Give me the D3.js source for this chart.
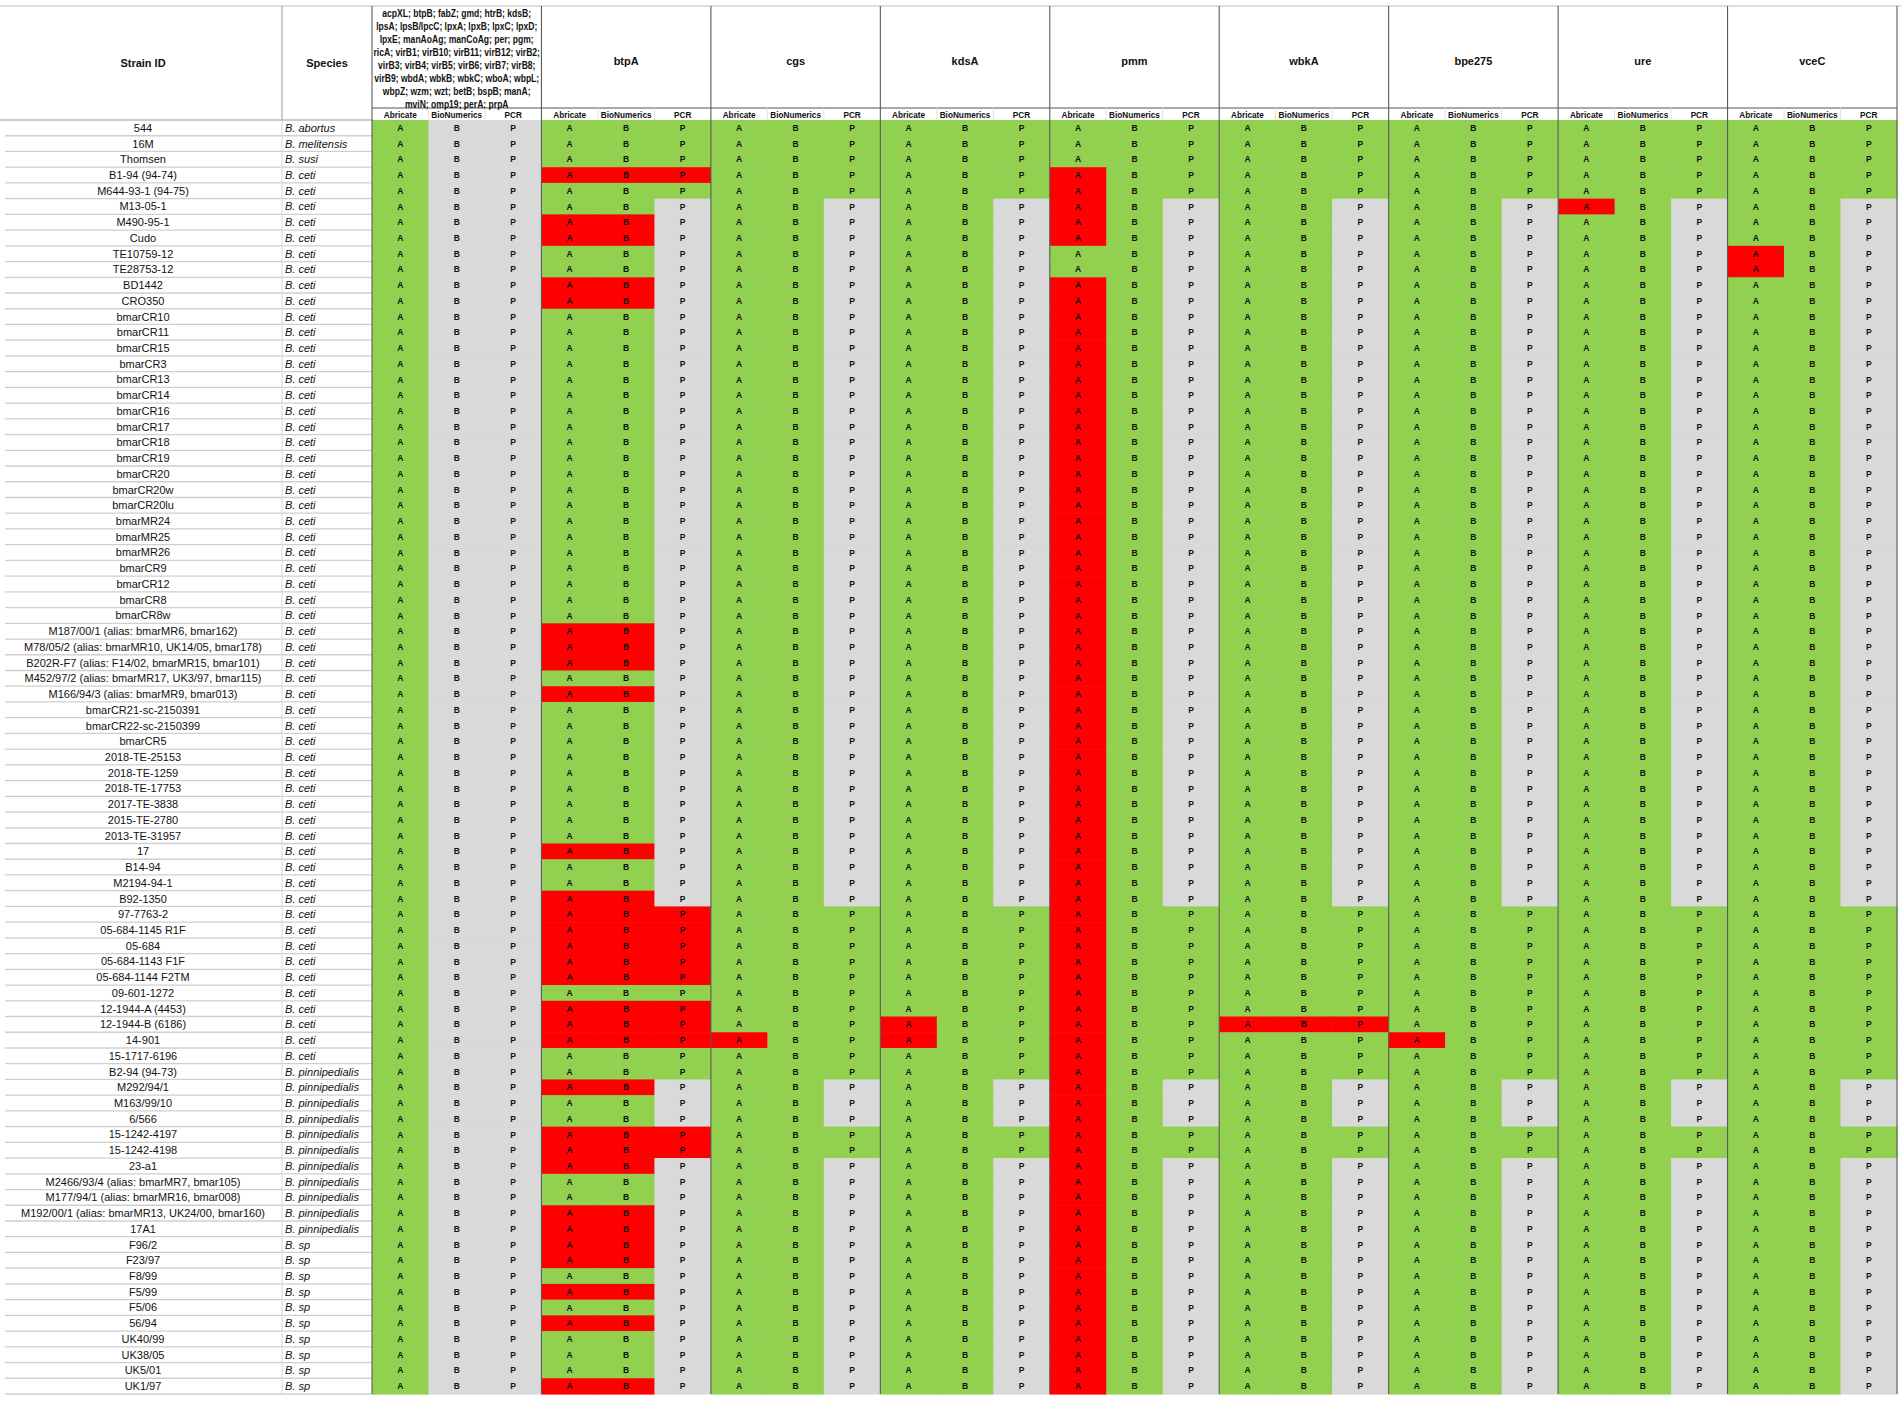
<!DOCTYPE html>
<html><head><meta charset="utf-8">
<script src="https://cdn.jsdelivr.net/npm/d3@7"></script>
<style>body{margin:0;background:#fff} svg{display:block}</style>
</head><body>
<script>
// ---------- DATA ----------
const strains = [
"544","16M","Thomsen","B1-94 (94-74)","M644-93-1 (94-75)","M13-05-1","M490-95-1","Cudo",
"TE10759-12","TE28753-12","BD1442","CRO350","bmarCR10","bmarCR11","bmarCR15","bmarCR3",
"bmarCR13","bmarCR14","bmarCR16","bmarCR17","bmarCR18","bmarCR19","bmarCR20","bmarCR20w",
"bmarCR20lu","bmarMR24","bmarMR25","bmarMR26","bmarCR9","bmarCR12","bmarCR8","bmarCR8w",
"M187/00/1 (alias: bmarMR6, bmar162)","M78/05/2 (alias: bmarMR10, UK14/05, bmar178)",
"B202R-F7 (alias: F14/02, bmarMR15, bmar101)","M452/97/2 (alias: bmarMR17, UK3/97, bmar115)",
"M166/94/3 (alias: bmarMR9, bmar013)","bmarCR21-sc-2150391","bmarCR22-sc-2150399","bmarCR5",
"2018-TE-25153","2018-TE-1259","2018-TE-17753","2017-TE-3838","2015-TE-2780","2013-TE-31957",
"17","B14-94","M2194-94-1","B92-1350","97-7763-2","05-684-1145 R1F","05-684","05-684-1143 F1F",
"05-684-1144 F2TM","09-601-1272","12-1944-A (4453)","12-1944-B (6186)","14-901","15-1717-6196",
"B2-94 (94-73)","M292/94/1","M163/99/10","6/566","15-1242-4197","15-1242-4198","23-a1",
"M2466/93/4 (alias: bmarMR7, bmar105)","M177/94/1 (alias: bmarMR16, bmar008)",
"M192/00/1 (alias: bmarMR13, UK24/00, bmar160)","17A1","F96/2","F23/97","F8/99","F5/99","F5/06",
"56/94","UK40/99","UK38/05","UK5/01","UK1/97"
];
const species = [
"B. abortus","B. melitensis","B. susi",
"B. ceti","B. ceti","B. ceti","B. ceti","B. ceti","B. ceti","B. ceti","B. ceti","B. ceti","B. ceti",
"B. ceti","B. ceti","B. ceti","B. ceti","B. ceti","B. ceti","B. ceti","B. ceti","B. ceti","B. ceti",
"B. ceti","B. ceti","B. ceti","B. ceti","B. ceti","B. ceti","B. ceti","B. ceti","B. ceti","B. ceti",
"B. ceti","B. ceti","B. ceti","B. ceti","B. ceti","B. ceti","B. ceti","B. ceti","B. ceti","B. ceti",
"B. ceti","B. ceti","B. ceti","B. ceti","B. ceti","B. ceti","B. ceti","B. ceti","B. ceti","B. ceti",
"B. ceti","B. ceti","B. ceti","B. ceti","B. ceti","B. ceti","B. ceti",
"B. pinnipedialis","B. pinnipedialis","B. pinnipedialis","B. pinnipedialis","B. pinnipedialis",
"B. pinnipedialis","B. pinnipedialis","B. pinnipedialis","B. pinnipedialis","B. pinnipedialis",
"B. pinnipedialis",
"B. sp","B. sp","B. sp","B. sp","B. sp","B. sp","B. sp","B. sp","B. sp","B. sp"
];
const pooledGeneLines = [
"acpXL; btpB; fabZ; gmd; htrB; kdsB;",
"lpsA; lpsB/lpcC; lpxA; lpxB; lpxC; lpxD;",
"lpxE; manAoAg; manCoAg; per; pgm;",
"ricA; virB1; virB10; virB11; virB12; virB2;",
"virB3; virB4; virB5; virB6; virB7; virB8;",
"virB9; wbdA; wbkB; wbkC; wboA; wbpL;",
"wbpZ; wzm; wzt; betB; bspB; manA;",
"mviN; omp19; perA; prpA"
];
const geneGroups = [pooledGeneLines.join(" "),"btpA","cgs","kdsA","pmm","wbkA","bpe275","ure","vceC"];
const methods = ["Abricate","BioNumerics","PCR"];
const methodCodes = ["A","B","P"];
// per strain: 9 gene groups x (Abricate, BioNumerics, PCR); g = detected, r = not detected, n = not tested
const results = [
"gnn ggg ggg ggg ggg ggg ggg ggg ggg", // 544
"gnn ggg ggg ggg ggg ggg ggg ggg ggg", // 16M
"gnn ggg ggg ggg ggg ggg ggg ggg ggg", // Thomsen
"gnn rrr ggg ggg rgg ggg ggg ggg ggg", // B1-94
"gnn ggg ggg ggg rgg ggg ggg ggg ggg", // M644-93-1
"gnn ggn ggn ggn rgn ggn ggn rgn ggn", // M13-05-1
"gnn rrn ggn ggn rgn ggn ggn ggn ggn", // M490-95-1
"gnn rrn ggn ggn rgn ggn ggn ggn ggn", // Cudo
"gnn ggn ggn ggn ggn ggn ggn ggn rgn", // TE10759-12
"gnn ggn ggn ggn ggn ggn ggn ggn rgn", // TE28753-12
"gnn rrn ggn ggn rgn ggn ggn ggn ggn", // BD1442
"gnn rrn ggn ggn rgn ggn ggn ggn ggn", // CRO350
"gnn ggn ggn ggn rgn ggn ggn ggn ggn", // bmarCR10
"gnn ggn ggn ggn rgn ggn ggn ggn ggn", // bmarCR11
"gnn ggn ggn ggn rgn ggn ggn ggn ggn", // bmarCR15
"gnn ggn ggn ggn rgn ggn ggn ggn ggn", // bmarCR3
"gnn ggn ggn ggn rgn ggn ggn ggn ggn", // bmarCR13
"gnn ggn ggn ggn rgn ggn ggn ggn ggn", // bmarCR14
"gnn ggn ggn ggn rgn ggn ggn ggn ggn", // bmarCR16
"gnn ggn ggn ggn rgn ggn ggn ggn ggn", // bmarCR17
"gnn ggn ggn ggn rgn ggn ggn ggn ggn", // bmarCR18
"gnn ggn ggn ggn rgn ggn ggn ggn ggn", // bmarCR19
"gnn ggn ggn ggn rgn ggn ggn ggn ggn", // bmarCR20
"gnn ggn ggn ggn rgn ggn ggn ggn ggn", // bmarCR20w
"gnn ggn ggn ggn rgn ggn ggn ggn ggn", // bmarCR20lu
"gnn ggn ggn ggn rgn ggn ggn ggn ggn", // bmarMR24
"gnn ggn ggn ggn rgn ggn ggn ggn ggn", // bmarMR25
"gnn ggn ggn ggn rgn ggn ggn ggn ggn", // bmarMR26
"gnn ggn ggn ggn rgn ggn ggn ggn ggn", // bmarCR9
"gnn ggn ggn ggn rgn ggn ggn ggn ggn", // bmarCR12
"gnn ggn ggn ggn rgn ggn ggn ggn ggn", // bmarCR8
"gnn ggn ggn ggn rgn ggn ggn ggn ggn", // bmarCR8w
"gnn rrn ggn ggn rgn ggn ggn ggn ggn", // M187/00/1
"gnn rrn ggn ggn rgn ggn ggn ggn ggn", // M78/05/2
"gnn rrn ggn ggn rgn ggn ggn ggn ggn", // B202R-F7
"gnn ggn ggn ggn rgn ggn ggn ggn ggn", // M452/97/2
"gnn rrn ggn ggn rgn ggn ggn ggn ggn", // M166/94/3
"gnn ggn ggn ggn rgn ggn ggn ggn ggn", // bmarCR21
"gnn ggn ggn ggn rgn ggn ggn ggn ggn", // bmarCR22
"gnn ggn ggn ggn rgn ggn ggn ggn ggn", // bmarCR5
"gnn ggn ggn ggn rgn ggn ggn ggn ggn", // 2018-TE-25153
"gnn ggn ggn ggn rgn ggn ggn ggn ggn", // 2018-TE-1259
"gnn ggn ggn ggn rgn ggn ggn ggn ggn", // 2018-TE-17753
"gnn ggn ggn ggn rgn ggn ggn ggn ggn", // 2017-TE-3838
"gnn ggn ggn ggn rgn ggn ggn ggn ggn", // 2015-TE-2780
"gnn ggn ggn ggn rgn ggn ggn ggn ggn", // 2013-TE-31957
"gnn rrn ggn ggn rgn ggn ggn ggn ggn", // 17
"gnn ggn ggn ggn rgn ggn ggn ggn ggn", // B14-94
"gnn ggn ggn ggn rgn ggn ggn ggn ggn", // M2194-94-1
"gnn rrn ggn ggn rgn ggn ggn ggn ggn", // B92-1350
"gnn rrr ggg ggg rgg ggg ggg ggg ggg", // 97-7763-2
"gnn rrr ggg ggg rgg ggg ggg ggg ggg", // 05-684-1145 R1F
"gnn rrr ggg ggg rgg ggg ggg ggg ggg", // 05-684
"gnn rrr ggg ggg rgg ggg ggg ggg ggg", // 05-684-1143 F1F
"gnn rrr ggg ggg rgg ggg ggg ggg ggg", // 05-684-1144 F2TM
"gnn ggg ggg ggg rgg ggg ggg ggg ggg", // 09-601-1272
"gnn rrr ggg ggg rgg ggg ggg ggg ggg", // 12-1944-A
"gnn rrr ggg rgg rgg rrr ggg ggg ggg", // 12-1944-B
"gnn rrr rgg rgg rgg ggg rgg ggg ggg", // 14-901
"gnn ggg ggg ggg rgg ggg ggg ggg ggg", // 15-1717-6196
"gnn ggg ggg ggg rgg ggg ggg ggg ggg", // B2-94
"gnn rrn ggn ggn rgn ggn ggn ggn ggn", // M292/94/1
"gnn ggn ggn ggn rgn ggn ggn ggn ggn", // M163/99/10
"gnn ggn ggn ggn rgn ggn ggn ggn ggn", // 6/566
"gnn rrr ggg ggg rgg ggg ggg ggg ggg", // 15-1242-4197
"gnn rrr ggg ggg rgg ggg ggg ggg ggg", // 15-1242-4198
"gnn rrn ggn ggn rgn ggn ggn ggn ggn", // 23-a1
"gnn ggn ggn ggn rgn ggn ggn ggn ggn", // M2466/93/4
"gnn ggn ggn ggn rgn ggn ggn ggn ggn", // M177/94/1
"gnn rrn ggn ggn rgn ggn ggn ggn ggn", // M192/00/1
"gnn rrn ggn ggn rgn ggn ggn ggn ggn", // 17A1
"gnn rrn ggn ggn rgn ggn ggn ggn ggn", // F96/2
"gnn rrn ggn ggn rgn ggn ggn ggn ggn", // F23/97
"gnn ggn ggn ggn rgn ggn ggn ggn ggn", // F8/99
"gnn rrn ggn ggn rgn ggn ggn ggn ggn", // F5/99
"gnn ggn ggn ggn rgn ggn ggn ggn ggn", // F5/06
"gnn rrn ggn ggn rgn ggn ggn ggn ggn", // 56/94
"gnn ggn ggn ggn rgn ggn ggn ggn ggn", // UK40/99
"gnn ggn ggn ggn rgn ggn ggn ggn ggn", // UK38/05
"gnn ggn ggn ggn rgn ggn ggn ggn ggn", // UK5/01
"gnn rrn ggn ggn rgn ggn ggn ggn ggn"  // UK1/97
];
const statusColor = {g:"#92D050", r:"#FF0000", n:"#D9D9D9"};

// ---------- LAYOUT ----------
const W = 1901, H = 1402;
const tableTop = 6, groupHeadBottom = 108, headBottom = 120, tableBottom = 1394;
const strainCol = [0, 282], speciesCol = [282, 372], gridCol = [372, 1897];
const FONT = "'Liberation Sans', Arial, sans-serif";
const CONDENSE = 0.84; // horizontal squeeze to mimic the narrow spreadsheet font

const svg = d3.select("body").append("svg").attr("width", W).attr("height", H)
  .style("font-family", FONT);

const y = d3.scaleBand().domain(d3.range(strains.length)).range([headBottom, tableBottom]);
const gx = d3.scaleBand().domain(d3.range(geneGroups.length)).range(gridCol);
const mx = d3.scaleBand().domain(d3.range(methods.length)).range([0, gx.bandwidth()]);

// cells
const cells = [];
results.forEach((row, i) => {
  row.split(" ").forEach((trip, g) => {
    trip.split("").forEach((s, m) => cells.push({i, g, m, s}));
  });
});

const cellG = svg.append("g");
cellG.selectAll("rect").data(cells).join("rect")
  .attr("x", d => gx(d.g) + mx(d.m))
  .attr("y", d => y(d.i))
  .attr("width", mx.bandwidth() + 0.6)
  .attr("height", y.bandwidth() + 0.6)
  .attr("fill", d => statusColor[d.s]);

cellG.selectAll("text").data(cells).join("text")
  .attr("x", d => gx(d.g) + mx(d.m) + mx.bandwidth() / 2)
  .attr("y", d => y(d.i) + y.bandwidth() / 2)
  .attr("dy", "0.36em")
  .attr("text-anchor", "middle")
  .attr("font-size", 8.5)
  .attr("font-weight", "bold")
  .attr("fill", "#111")
  .text(d => methodCodes[d.m]);

// left columns: row lines and labels
const left = svg.append("g");
left.selectAll("line.row").data(d3.range(strains.length)).join("line")
  .attr("class", "row")
  .attr("x1", 5).attr("x2", speciesCol[1])
  .attr("y1", i => y(i) + y.bandwidth()).attr("y2", i => y(i) + y.bandwidth())
  .attr("stroke", "#cfcfcf").attr("stroke-width", 1.3);
left.append("line").attr("x1", speciesCol[0]).attr("x2", speciesCol[0])
  .attr("y1", headBottom).attr("y2", tableBottom).attr("stroke", "#d6d6d6").attr("stroke-width", 1);

left.selectAll("text.strain").data(strains).join("text")
  .attr("class", "strain")
  .attr("x", (strainCol[0] + strainCol[1]) / 2 + 2)
  .attr("y", (d, i) => y(i) + y.bandwidth() / 2)
  .attr("dy", "0.36em").attr("text-anchor", "middle")
  .attr("font-size", 11).attr("fill", "#111")
  .text(d => d);
left.selectAll("text.species").data(species).join("text")
  .attr("class", "species")
  .attr("x", speciesCol[0] + 3)
  .attr("y", (d, i) => y(i) + y.bandwidth() / 2)
  .attr("dy", "0.36em")
  .attr("font-size", 11).attr("font-style", "italic").attr("fill", "#111")
  .text(d => d);

// ---------- HEADER ----------
const head = svg.append("g");
head.append("line").attr("x1", 0).attr("x2", W).attr("y1", tableTop).attr("y2", tableTop)
  .attr("stroke", "#bdbdbd").attr("stroke-width", 1);
head.append("line").attr("x1", 0).attr("x2", speciesCol[1]).attr("y1", headBottom).attr("y2", headBottom)
  .attr("stroke", "#9a9a9a").attr("stroke-width", 1.2);
head.append("line").attr("x1", gridCol[0]).attr("x2", gridCol[1]).attr("y1", groupHeadBottom).attr("y2", groupHeadBottom)
  .attr("stroke", "#555").attr("stroke-width", 1.1);
head.append("line").attr("x1", speciesCol[0]).attr("x2", speciesCol[0]).attr("y1", tableTop).attr("y2", headBottom)
  .attr("stroke", "#9a9a9a").attr("stroke-width", 1);

head.append("text").attr("x", (strainCol[0] + strainCol[1]) / 2 + 2).attr("y", 63).attr("dy", "0.36em")
  .attr("text-anchor", "middle").attr("font-size", 11).attr("font-weight", "bold").attr("fill", "#111")
  .text("Strain ID");
head.append("text").attr("x", (speciesCol[0] + speciesCol[1]) / 2).attr("y", 63).attr("dy", "0.36em")
  .attr("text-anchor", "middle").attr("font-size", 11).attr("font-weight", "bold").attr("fill", "#111")
  .text("Species");

// group names
head.selectAll("text.gname").data(geneGroups.slice(1)).join("text")
  .attr("class", "gname")
  .attr("x", (d, i) => gx(i + 1) + gx.bandwidth() / 2)
  .attr("y", 61).attr("dy", "0.36em").attr("text-anchor", "middle")
  .attr("font-size", 11).attr("font-weight", "bold").attr("fill", "#111")
  .text(d => d);

// pooled gene list (condensed)
const gcx = gx(0) + gx.bandwidth() / 2;
head.append("g")
  .attr("transform", `translate(${gcx},0) scale(${CONDENSE},1)`)
  .selectAll("text").data(pooledGeneLines).join("text")
  .attr("x", 0)
  .attr("y", (d, i) => 13.5 + i * 13).attr("dy", "0.36em")
  .attr("text-anchor", "middle")
  .attr("font-size", 10.2).attr("font-weight", "bold").attr("fill", "#111")
  .text(d => d);

// sub-headers (condensed)
const subs = [];
geneGroups.forEach((g, gi) => methods.forEach((m, mi) => subs.push({gi, mi, m})));
head.selectAll("g.sub").data(subs).join("g")
  .attr("class", "sub")
  .attr("transform", d => `translate(${gx(d.gi) + mx(d.mi) + mx.bandwidth() / 2},${(groupHeadBottom + headBottom) / 2}) scale(${CONDENSE},1)`)
  .append("text")
  .attr("dy", "0.36em")
  .attr("text-anchor", "middle")
  .attr("font-size", 9.8).attr("font-weight", "bold").attr("fill", "#111")
  .text(d => d.m);
head.selectAll("line.subsep").data(subs.filter(d => d.mi > 0)).join("line")
  .attr("class", "subsep")
  .attr("x1", d => gx(d.gi) + mx(d.mi)).attr("x2", d => gx(d.gi) + mx(d.mi))
  .attr("y1", groupHeadBottom).attr("y2", headBottom)
  .attr("stroke", "#e2e2e2").attr("stroke-width", 1);

// group separators
const seps = d3.range(geneGroups.length + 1).map(i => i < geneGroups.length ? gx(i) : gridCol[1]);
svg.append("g").selectAll("line").data(seps).join("line")
  .attr("x1", d => d).attr("x2", d => d)
  .attr("y1", tableTop).attr("y2", tableBottom)
  .attr("stroke", "#5a5a5a").attr("stroke-width", 1.1);
</script>
</body></html>
